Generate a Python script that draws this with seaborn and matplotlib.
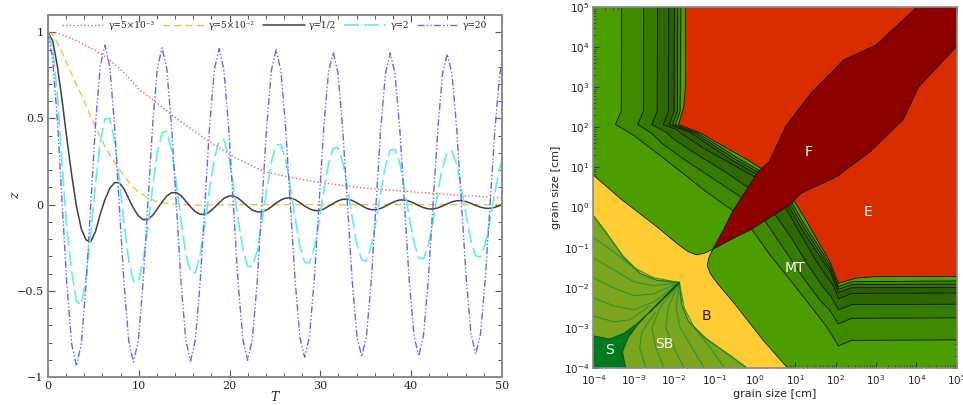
import numpy as np
import matplotlib
matplotlib.use("Agg")
import matplotlib.pyplot as plt
from matplotlib.ticker import MultipleLocator, LogLocator, NullFormatter
import seaborn as sns

# ------------------------------------------------------------------ left panel data
T_grid = [0.00, 0.52, 1.05, 1.57, 2.09, 2.62, 3.14, 3.67, 4.19, 4.71, 5.24, 5.76,
          6.28, 6.81, 7.33, 7.85, 8.38, 8.90, 9.42, 9.95, 10.47, 11.00, 11.52, 12.04,
          12.57, 13.09, 13.61, 14.14, 14.66, 15.18, 15.71, 16.23, 16.76, 17.28, 17.80, 18.33,
          18.85, 19.37, 19.90, 20.42, 20.94, 21.47, 21.99, 22.51, 23.04, 23.56, 24.09, 24.61,
          25.13, 25.66, 26.18, 26.70, 27.23, 27.75, 28.27, 28.80, 29.32, 29.85, 30.37, 30.89,
          31.42, 31.94, 32.46, 32.99, 33.51, 34.03, 34.56, 35.08, 35.61, 36.13, 36.65, 37.18,
          37.70, 38.22, 38.75, 39.27, 39.79, 40.32, 40.84, 41.36, 41.89, 42.41, 42.94, 43.46,
          43.98, 44.51, 45.03, 45.55, 46.08, 46.60, 47.12, 47.65, 48.17, 48.69, 49.22, 49.74,
          50.00]

z_gamma20 = [1.0, 0.84, 0.48, 0.0, -0.47, -0.81, -0.936, -0.81, -0.466, 0.0, 0.464, 0.802,
             0.925, 0.80, 0.462, 0.0, -0.459, -0.792, -0.913, -0.79, -0.456, 0.0, 0.455, 0.789,
             0.91, 0.788, 0.455, 0.0, -0.454, -0.786, -0.907, -0.786, -0.453, 0.0, 0.453, 0.785,
             0.905, 0.784, 0.452, 0.0, -0.452, -0.783, -0.903, -0.782, -0.451, 0.0, 0.45, 0.779,
             0.898, 0.776, 0.447, 0.0, -0.445, -0.77, -0.885, -0.767, -0.442, 0.0, 0.442, 0.766,
             0.884, 0.765, 0.442, 0.0, -0.441, -0.764, -0.882, -0.764, -0.441, 0.0, 0.44, 0.763,
             0.88, 0.762, 0.44, 0.0, -0.44, -0.761, -0.878, -0.76, -0.439, 0.0, 0.438, 0.758,
             0.874, 0.756, 0.436, 0.0, -0.435, -0.752, -0.866, -0.749, -0.432, 0.0, 0.431, 0.746,
             0.83]

z_gamma2 = [1.0, 0.91, 0.63, 0.22, -0.14, -0.39, -0.56, -0.58, -0.43, -0.165, 0.12, 0.36,
            0.497, 0.50, 0.37, 0.148, -0.108, -0.322, -0.444, -0.449, -0.334, -0.133, 0.098, 0.299,
            0.417, 0.424, 0.316, 0.125, -0.093, -0.28, -0.39, -0.396, -0.295, -0.117, 0.087, 0.266,
            0.372, 0.378, 0.283, 0.113, -0.084, -0.255, -0.356, -0.362, -0.271, -0.108, 0.081, 0.246,
            0.345, 0.35, 0.262, 0.105, -0.078, -0.238, -0.334, -0.339, -0.255, -0.102, 0.076, 0.234,
            0.327, 0.332, 0.25, 0.1, -0.075, -0.229, -0.321, -0.327, -0.245, -0.098, 0.073, 0.225,
            0.315, 0.321, 0.241, 0.096, -0.072, -0.221, -0.309, -0.315, -0.236, -0.095, 0.071, 0.217,
            0.304, 0.309, 0.232, 0.093, -0.069, -0.213, -0.298, -0.303, -0.228, -0.091, 0.068, 0.208,
            0.26]

z_gamma05 = [1.0, 0.95, 0.80, 0.60, 0.38, 0.17, -0.01, -0.14, -0.205, -0.215, -0.155, -0.055,
             0.03, 0.094, 0.128, 0.127, 0.091, 0.034, -0.021, -0.064, -0.087, -0.086, -0.063, -0.025,
             0.016, 0.05, 0.069, 0.07, 0.052, 0.021, -0.013, -0.041, -0.056, -0.057, -0.042, -0.017,
             0.011, 0.036, 0.05, 0.051, 0.038, 0.015, -0.01, -0.031, -0.042, -0.042, -0.031, -0.013,
             0.009, 0.027, 0.038, 0.039, 0.029, 0.012, -0.008, -0.024, -0.034, -0.034, -0.026, -0.01,
             0.007, 0.022, 0.031, 0.032, 0.024, 0.01, -0.006, -0.021, -0.029, -0.029, -0.022, -0.009,
             0.006, 0.019, 0.027, 0.027, 0.02, 0.008, -0.006, -0.017, -0.025, -0.025, -0.019, -0.008,
             0.005, 0.016, 0.023, 0.023, 0.017, 0.007, -0.005, -0.015, -0.021, -0.022, -0.016, -0.006,
             0.0]

T_gamma005 = [0, 0.5, 1.24, 2, 3, 4, 4.8, 5.7, 6.56, 7.5, 8.33, 9.2, 10.1, 11, 11.9, 13, 14, 16, 20, 30, 40, 50]
z_gamma005 = [1.0, 0.985, 0.92, 0.83, 0.71, 0.60, 0.50, 0.40, 0.31, 0.23, 0.17, 0.11, 0.068, 0.04, 0.02,
              0.008, 0.002, -0.003, 0.0, 0.0, 0.0, 0.0]

T_gamma0005 = [0, 1, 3, 5, 6.56, 8.5, 10.1, 12, 13.65, 15.5, 17.2, 19, 20.7, 22.3, 23.9, 27, 30, 35, 40, 45, 50]
z_gamma0005 = [1.0, 0.995, 0.956, 0.90, 0.85, 0.76, 0.666, 0.59, 0.52, 0.45, 0.386, 0.325, 0.27, 0.23, 0.19,
               0.155, 0.128, 0.095, 0.075, 0.055, 0.04]

gamma_labels = ["γ=5×10⁻³", "γ=5×10⁻²", "γ=1/2", "γ=2", "γ=20"]

# ------------------------------------------------------------------ right panel data (log10 grain sizes)
F_low_u = [-1.04, -0.6, -0.08, 0.45, 0.87, 1.15, 2.03, 2.85, 3.68, 4.05, 5.0]
F_low_v = [-1.04, -0.8, -0.54, -0.2, 0.07, 0.36, 0.77, 1.39, 2.2, 3.0, 4.02]

band_lines = [
    ([-0.08, 0.375, 0.87, 1.3, 1.8, 2.07, 2.4, 5.0], [-0.54, -1.18, -1.8, -2.35, -3.0, -3.45, -3.31, -3.30]),
    ([0.25, 0.7, 1.2, 1.6, 1.85, 2.07, 2.4, 5.0], [-0.33, -1.0, -1.75, -2.3, -2.55, -2.9, -2.76, -2.75]),
    ([0.5, 0.9, 1.3, 1.7, 1.88, 2.07, 2.4, 5.0], [-0.17, -0.75, -1.4, -2.0, -2.2, -2.55, -2.42, -2.41]),
    ([0.76, 1.1, 1.5, 1.8, 1.95, 2.07, 2.4, 5.0], [0.0, -0.6, -1.3, -1.75, -1.95, -2.27, -2.14, -2.13]),
    ([0.83, 1.2, 1.6, 1.87, 2.07, 2.4, 5.0], [0.044, -0.6, -1.2, -1.6, -2.12, -2.0, -1.99]),
    ([0.88, 1.2, 1.6, 1.86, 2.07, 2.4, 5.0], [0.08, -0.48, -1.1, -1.5, -2.04, -1.92, -1.91]),
    ([0.92, 1.2, 1.6, 1.86, 2.07, 2.4, 5.0], [0.12, -0.37, -1.0, -1.43, -1.97, -1.85, -1.83]),
    ([0.97, 1.2, 1.6, 1.86, 2.07, 2.5, 3.0, 5.0], [0.17, -0.2, -0.9, -1.35, -1.89, -1.76, -1.72, -1.72]),
]
band_colors = ["#3f8a00", "#377a00", "#2f6800", "#2b6000", "#357200", "#3e8600", "#49a200", "#d92c00"]

B_up_u = [-4.0, -3.3, -2.4, -1.9, -1.65, -1.45, -1.25, -1.04]
B_up_v = [0.81, 0.2, -0.5, -0.92, -1.1, -1.18, -1.14, -1.04]

SB_up_u = [-4.0, -3.7, -3.26, -2.84, -2.43, -1.87]
SB_up_v = [-0.2, -0.6, -1.22, -1.64, -1.81, -1.87]

S_up_u = [-4.0, -3.6, -3.24, -2.92, -2.6]
S_up_v = [-3.2, -3.28, -3.14, -2.9, -2.6]

SB_contours = [
    ([-4.0, -3.5, -3.0, -2.5, -1.87], [-0.75, -1.1, -1.5, -1.75, -1.87]),
    ([-4.0, -3.5, -3.0, -2.5, -1.87], [-1.25, -1.55, -1.85, -1.95, -1.87]),
    ([-4.0, -3.5, -3.0, -2.5, -1.87], [-1.75, -2.0, -2.2, -2.15, -1.87]),
    ([-4.0, -3.5, -3.0, -2.5, -1.87], [-2.25, -2.45, -2.55, -2.35, -1.87]),
    ([-4.0, -3.5, -3.1, -2.6], [-2.7, -2.85, -2.8, -2.45]),
]

region_labels = ["F", "E", "MT", "B", "S", "SB"]
label_u = [1.32, 2.8, 0.99, -1.21, -3.61, -2.25]
label_v = [1.39, -0.11, -1.51, -2.7, -3.55, -3.4]
label_colors = ["white", "white", "white", "#222222", "white", "white"]

# ------------------------------------------------------------------ figure
sns.set_theme(style="ticks")
plt.rcParams["font.family"] = ["DejaVu Sans"]
fig = plt.figure(figsize=(9.63, 4.05), dpi=100)
ax1 = fig.add_axes([0.0498, 0.0691, 0.4714, 0.8938])
ax2 = fig.add_axes([0.6161, 0.0914, 0.3774, 0.8914])

# ---- left
series = [
    (T_gamma0005, z_gamma0005, "#ff5a5a", (0, (1, 1.6)), 1.0),
    (T_gamma005, z_gamma005, "#ffb845", (0, (5, 3)), 1.0),
    (T_grid, z_gamma05, "#404040", "-", 1.1),
    (T_grid, z_gamma2, "#5eeeee", (0, (9, 3)), 1.2),
    (T_grid, z_gamma20, "#6464ff", (0, (5, 1.6, 1, 1.6, 1, 1.6)), 1.0),
]
for (T, z, col, ls, lw), lab in zip(series, gamma_labels):
    sns.lineplot(x=T, y=z, ax=ax1, color=col, linestyle=ls, linewidth=lw,
                 label=lab, errorbar=None, sort=False)

ax1.set_xlim(0, 50)
ax1.set_ylim(-1, 1.1)
ax1.xaxis.set_major_locator(MultipleLocator(10))
ax1.xaxis.set_minor_locator(MultipleLocator(2))
ax1.yaxis.set_minor_locator(MultipleLocator(0.1))
ax1.set_yticks([-1, -0.5, 0, 0.5, 1])
ax1.set_yticklabels(["−1", "−0.5", "0", "0.5", "1"])
ax1.tick_params(which="both", direction="in", top=True, right=True, labelsize=8,
                color="#555555", labelcolor="#222222", pad=3)
ax1.tick_params(which="major", length=5, width=0.8)
ax1.tick_params(which="minor", length=3, width=0.7)
for lab in ax1.get_xticklabels() + ax1.get_yticklabels():
    lab.set_family("DejaVu Serif")
for sp in ax1.spines.values():
    sp.set_color("#8a8a8a")
    sp.set_linewidth(1.4)
ax1.set_xlabel("T", family="DejaVu Serif", style="italic", fontsize=9, labelpad=0)
ax1.set_ylabel("z", family="DejaVu Serif", style="italic", fontsize=9)
ax1.yaxis.set_label_coords(-0.058, 0.5)
leg = ax1.legend(loc="upper center", bbox_to_anchor=(0.5, 1.005), ncol=5, frameon=False,
                 handlelength=4.6, handletextpad=0.5, columnspacing=0.9,
                 prop={"family": "DejaVu Serif", "size": 6.5})

# ---- right
ax2.set_xscale("log")
ax2.set_yscale("log")
ax2.set_xlim(1e-4, 1e5)
ax2.set_ylim(1e-4, 1e5)
ax2.set_facecolor("#4c9e00")


def pw(a):
    return 10.0 ** np.asarray(a, dtype=float)


def above(lu, lv):
    pu = list(lu) + [5.0]
    pv = list(lv) + [F_low_v[-1]]
    for u, v in reversed(list(zip(F_low_u, F_low_v))):
        if lu[0] < u < 5.0:
            pu.append(u)
            pv.append(v)
    return pu, pv


edge_kw = dict(color="#111111", lw=0.6)

# yellow B region (symmetric about the diagonal)
yb_u = B_up_u + B_up_v[::-1][1:] + [-4.0]
yb_v = B_up_v + B_up_u[::-1][1:] + [-4.0]
ax2.fill(pw(yb_u), pw(yb_v), color="#ffcc33", lw=0)
ax2.plot(pw(B_up_u), pw(B_up_v), **edge_kw)
ax2.plot(pw(B_up_v), pw(B_up_u), **edge_kw)

# olive SB region
sb_u = SB_up_u + SB_up_v[::-1][1:] + [-4.0]
sb_v = SB_up_v + SB_up_u[::-1][1:] + [-4.0]
ax2.fill(pw(sb_u), pw(sb_v), color="#7aa51c", lw=0)
for cu, cv in SB_contours:
    ax2.plot(pw(cu), pw(cv), color="#2e922e", lw=0.8)
    ax2.plot(pw(cv), pw(cu), color="#2e922e", lw=0.8)
ax2.plot(pw(SB_up_u), pw(SB_up_v), color="#1f7f1f", lw=1.0)
ax2.plot(pw(SB_up_v), pw(SB_up_u), color="#1f7f1f", lw=1.0)

# dark green S region
s_u = S_up_u + S_up_v[::-1][1:] + [-4.0]
s_v = S_up_v + S_up_u[::-1][1:] + [-4.0]
ax2.fill(pw(s_u), pw(s_v), color="#00791f", lw=0)
ax2.plot(pw(s_u[:-1]), pw(s_v[:-1]), color="#0b5a14", lw=0.8)
ax2.plot(pw([S_up_u[-1], SB_up_u[-1]]), pw([S_up_v[-1], SB_up_v[-1]]), color="#0b4a10", lw=1.3)

# mass-transfer bands and erosion (both halves)
for (lu, lv), col in zip(band_lines, band_colors):
    pu, pv = above(lu, lv)
    ax2.fill(pw(pu), pw(pv), color=col, lw=0)
    ax2.fill(pw(pv), pw(pu), color=col, lw=0)
    ax2.plot(pw(lu), pw(lv), **edge_kw)
    ax2.plot(pw(lv), pw(lu), **edge_kw)

# fragmentation F
f_u = F_low_u + [5.0] + F_low_v[::-1]
f_v = F_low_v + [5.0] + F_low_u[::-1]
ax2.fill(pw(f_u), pw(f_v), color="#8c0000", lw=0)
ax2.plot(pw(F_low_u), pw(F_low_v), **edge_kw)
ax2.plot(pw(F_low_v), pw(F_low_u), **edge_kw)

for t, u, v, c in zip(region_labels, label_u, label_v, label_colors):
    ax2.text(10 ** u, 10 ** v, t, color=c, fontsize=10, ha="center", va="center")

ax2.xaxis.set_major_locator(LogLocator(base=10, numticks=20))
ax2.yaxis.set_major_locator(LogLocator(base=10, numticks=20))
ax2.xaxis.set_minor_locator(LogLocator(base=10, subs=np.arange(2, 10), numticks=20))
ax2.yaxis.set_minor_locator(LogLocator(base=10, subs=np.arange(2, 10), numticks=20))
ax2.xaxis.set_minor_formatter(NullFormatter())
ax2.yaxis.set_minor_formatter(NullFormatter())
ax2.tick_params(which="both", direction="in", top=True, right=True, labelsize=7.5,
                color="#333333", labelcolor="#222222")
ax2.tick_params(which="major", length=4, width=0.7)
ax2.tick_params(which="minor", length=2, width=0.5)
ax2.tick_params(axis="x", which="major", pad=4)
ax2.tick_params(axis="y", which="major", pad=3)
for sp in ax2.spines.values():
    sp.set_color("#8a8a8a")
    sp.set_linewidth(1.2)
ax2.set_xlabel("grain size [cm]", fontsize=8, labelpad=1)
ax2.set_ylabel("grain size [cm]", fontsize=8, labelpad=2)

fig.savefig("out.png", dpi=100)
